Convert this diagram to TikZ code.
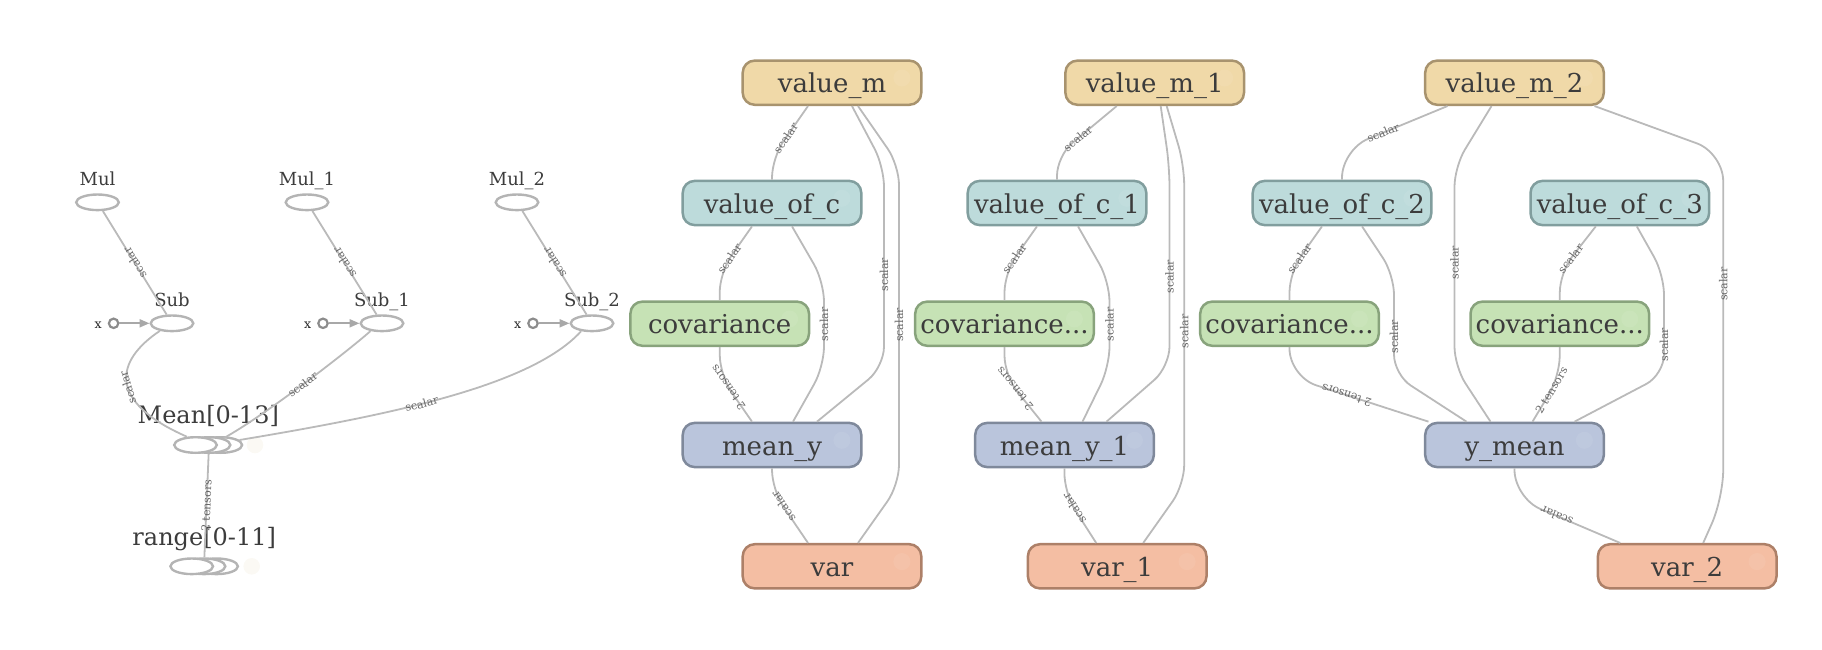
\documentclass[tikz,border=0pt]{standalone}
\usepackage{fontspec}
\setmainfont{DejaVu Serif}
\usetikzlibrary{shapes.geometric, arrows.meta, calc}

\definecolor{vmfill}{HTML}{F0D9A8}
\definecolor{vmdraw}{HTML}{A8936E}
\definecolor{vcfill}{HTML}{BDDBDB}
\definecolor{vcdraw}{HTML}{819E9E}
\definecolor{cvfill}{HTML}{C6E2B5}
\definecolor{cvdraw}{HTML}{88A37C}
\definecolor{myfill}{HTML}{BAC5DC}
\definecolor{mydraw}{HTML}{7F899B}
\definecolor{vrfill}{HTML}{F4BEA3}
\definecolor{vrdraw}{HTML}{AD8068}
\definecolor{edgegray}{HTML}{BABABA}
\definecolor{lblgray}{HTML}{666666}
\definecolor{opgray}{HTML}{B4B4B4}
\definecolor{portgray}{HTML}{8C8C8C}
\definecolor{arrowgray}{HTML}{A8A8A8}
\definecolor{txt}{HTML}{3C3C3C}
\definecolor{faintc}{HTML}{FBF9F4}

\begin{document}
\begin{tikzpicture}[x=0.5pt, y=-0.5pt,
    opbox/.style={rectangle, rounded corners=6pt, line width=1.25pt,
      minimum width=89.3pt, minimum height=22.1pt, inner sep=0pt,
      text height=12pt, text depth=2pt, text=txt,
      font=\fontsize{13}{15}\selectfont,
      path picture={\fill[white, opacity=0.07]
        ([xshift=-9.7pt, yshift=2.35pt]path picture bounding box.east) circle (4.25pt);}},
    mbox/.style={opbox, fill=vmfill, draw=vmdraw},
    cbox/.style={opbox, fill=vcfill, draw=vcdraw},
    covbox/.style={opbox, fill=cvfill, draw=cvdraw},
    meanbox/.style={opbox, fill=myfill, draw=mydraw},
    varbox/.style={opbox, fill=vrfill, draw=vrdraw},
    op/.style={ellipse, draw=opgray, fill=white, line width=1.2pt,
      minimum width=21.3pt, minimum height=7.8pt, inner sep=0pt},
    oplabel/.style={anchor=base, text=txt, inner sep=0pt, font=\fontsize{9}{9}\selectfont},
    grouplabel/.style={oplabel, font=\fontsize{12}{12}\selectfont},
    inport/.style={circle, draw=portgray, fill=white, line width=1.1pt,
      minimum size=4.7pt, inner sep=0pt},
    faint/.style={circle, fill=faintc, minimum size=8.3pt, inner sep=0pt},
    link/.style={draw=edgegray, line width=0.9pt, rounded corners=10pt},
    inlink/.style={draw=arrowgray, line width=1pt, -{Triangle[length=5pt, width=4pt]}},
    lbl/.style={sloped, allow upside down, inner sep=0.5pt, text=lblgray,
      font=\fontsize{5.5}{5.5}\selectfont},
  ]
    \useasboundingbox (0,0) rectangle (1822,649);

    % left part: ops
    \node[op] (mul) at (97.5,202.3) {};
    \node[op] (mul1) at (307,202.3) {};
    \node[op] (mul2) at (517,202.3) {};
    \node[oplabel] (mull) at (97.5,185) {Mul};
    \node[oplabel] (mul1l) at (307,185) {Mul\_1};
    \node[oplabel] (mul2l) at (517,185) {Mul\_2};
    \node[op] (sub) at (172,323.3) {};
    \node[op] (sub1) at (382,323.3) {};
    \node[op] (sub2) at (592,323.3) {};
    \node[oplabel] (subl) at (172,306.7) {Sub};
    \node[oplabel] (sub1l) at (382,306.7) {Sub\_1};
    \node[oplabel] (sub2l) at (592,306.7) {Sub\_2};
    \node[inport] (x0) at (113.6,323.3) {};
    \node[inport] (x1) at (323,323.3) {};
    \node[inport] (x2) at (533,323.3) {};
    \node[oplabel, font=\fontsize{6.3}{6.3}\selectfont, text=black!85] (x0l) at (98.2,328.3) {x};
    \node[oplabel, font=\fontsize{6.3}{6.3}\selectfont, text=black!85] (x1l) at (307.6,328.3) {x};
    \node[oplabel, font=\fontsize{6.3}{6.3}\selectfont, text=black!85] (x2l) at (517.6,328.3) {x};

    % stacked groups
    \node[faint] (meanf) at (255,445) {};
    \node[op] (mean2) at (220.8,445) {};
    \node[op] (mean1) at (209,445) {};
    \node[op] (mean0) at (195.5,445) {};
    \node[grouplabel] (meanl) at (208.3,423.3) {Mean[0-13]};
    \node[faint] (rangef) at (251.7,566.3) {};
    \node[op] (range2) at (216.6,566.3) {};
    \node[op] (range1) at (204,566.3) {};
    \node[op] (range0) at (191.7,566.3) {};
    \node[grouplabel] (rangel) at (204.2,545.7) {range[0-11]};

    % right part: boxes
    \node[mbox] (valm) at (832,82.7) {value\_m};
    \node[mbox] (valm1) at (1154.7,82.7) {value\_m\_1};
    \node[mbox] (valm2) at (1514.5,82.7) {value\_m\_2};
    \node[cbox] (valc) at (772,203) {value\_of\_c};
    \node[cbox] (valc1) at (1057,203) {value\_of\_c\_1};
    \node[cbox] (valc2) at (1342,203) {value\_of\_c\_2};
    \node[cbox] (valc3) at (1619.8,203) {value\_of\_c\_3};
    \node[covbox] (cova) at (719.7,323.7) {covariance};
    \node[covbox] (cova1) at (1004.5,323.7) {covariance...};
    \node[covbox] (cova2) at (1289.5,323.7) {covariance...};
    \node[covbox] (cova3) at (1559.8,323.7) {covariance...};
    \node[meanbox] (meany) at (772,445) {mean\_y};
    \node[meanbox] (meany1) at (1064.5,445) {mean\_y\_1};
    \node[meanbox] (ymean) at (1514.5,445) {y\_mean};
    \node[varbox] (var0) at (832,566.3) {var};
    \node[varbox] (var1) at (1117.2,566.3) {var\_1};
    \node[varbox] (var2) at (1687.2,566.3) {var\_2};

    % left edges
    \draw[link] (sub) -- node[lbl] {scalar} (mul);
    \draw[link] (sub1) -- node[lbl] {scalar} (mul1);
    \draw[link] (sub2) -- node[lbl] {scalar} (mul2);
    \draw[inlink] (x0) -- (sub);
    \draw[inlink] (x1) -- (sub1);
    \draw[inlink] (x2) -- (sub2);
    \draw[link] (mean0.136) .. controls +(-80,-35) and +(-45,30) .. node[lbl, pos=.45] {scalar} (sub.212);
    \draw[link] (mean1.25) .. controls +(40,-22) and +(-25,22) .. node[lbl] {scalar} (sub1.214);
    \draw[link] (mean2.15) .. controls +(150,-25) and +(-50,55) .. node[lbl, pos=.43] {scalar} (sub2.216);
    \draw[link] (range1) -- node[lbl] {2 tensors} (mean1);

    % value_m column
    \draw[link] (valc.north) -- ++(0,-22) -- node[lbl, pos=.38] {scalar} ($(valm.south)+(-24,0)$);
    \draw[link] (cova.north) -- ++(0,-28) -- node[lbl, pos=.3] {scalar} ($(valc.south)+(-20,0)$);
    \draw[link] ($(meany.north)+(-20,0)$) -- node[lbl, pos=.75] {2 tensors} ++(-32,-46) -- (cova.south);
    \draw[link] ($(meany.north)+(21,0)$) -- ++(31,-55) -- node[lbl] {scalar} ++(0,-85) -- ($(valc.south)+(20,0)$);
    \draw[link] ($(meany.north)+(45,0)$) -- ++(67,-55) -- node[lbl, pos=.46] {scalar} ++(0,-200) -- ($(valm.south)+(20,0)$);
    \draw[link] ($(var0.north)+(26,0)$) -- ++(41,-58) -- node[lbl] {scalar} ++(0,-320) -- ($(valm.south)+(26,0)$);
    \draw[link] ($(var0.north)+(-24,0)$) -- node[lbl, pos=.69] {scalar} ++(-36,-53) -- (meany.south);

    % value_m_1 column
    \draw[link] (valc1.north) -- ++(0,-24) -- node[lbl, pos=.35] {scalar} ($(valm1.south)+(-38,0)$);
    \draw[link] (cova1.north) -- ++(0,-28) -- node[lbl, pos=.3] {scalar} ($(valc1.south)+(-20,0)$);
    \draw[link] ($(meany1.north)+(-23,0)$) -- node[lbl, pos=.72] {2 tensors} ++(-37,-46) -- (cova1.south);
    \draw[link] ($(meany1.north)+(18,0)$) -- ++(27,-55) -- node[lbl] {scalar} ++(0,-85) -- ($(valc1.south)+(21,0)$);
    \draw[link] ($(meany1.north)+(42,0)$) -- ++(63,-55) -- node[lbl, pos=.45] {scalar} ++(0,-200) -- ($(valm1.south)+(6,0)$);
    \draw[link] ($(var1.north)+(26,0)$) -- ++(41,-58) -- node[lbl, pos=.48] {scalar} ++(0,-320) -- ($(valm1.south)+(12,0)$);
    \draw[link] ($(var1.north)+(-21,0)$) -- node[lbl, pos=.69] {scalar} ++(-32,-50) -- (meany1.south);

    % value_m_2 column
    \draw[link, rounded corners=14pt] (valc2.north) -- ++(0,-30) -- node[lbl, pos=.39] {scalar} ($(valm2.south)+(-67,0)$);
    \draw[link] (cova2.north) -- ++(0,-28) -- node[lbl, pos=.3] {scalar} ($(valc2.south)+(-20,0)$);
    \draw[link, rounded corners=14pt] ($(ymean.north)+(-86,0)$) -- node[lbl, pos=.59] {2 tensors} ++(-139,-45) -- (cova2.south);
    \draw[link] ($(ymean.north)+(-48,0)$) -- ++(-72.5,-47) -- node[lbl, pos=.38] {scalar} ++(0,-100) -- ($(valc2.south)+(20,0)$);
    \draw[link] ($(ymean.north)+(-24,0)$) -- ++(-36,-55) -- node[lbl, pos=.52] {scalar} ++(0,-200) -- ($(valm2.south)+(-23,0)$);
    \draw[link] (cova3.north) -- ++(0,-28) -- node[lbl, pos=.3] {scalar} ($(valc3.south)+(-24,0)$);
    \draw[link] ($(ymean.north)+(18,0)$) -- node[lbl, pos=.7] {2 tensors} ++(27,-45) -- (cova3.south);
    \draw[link] ($(ymean.north)+(60,0)$) -- ++(89.5,-47) -- node[lbl, pos=.3] {scalar} ++(0,-100) -- ($(valc3.south)+(17,0)$);
    \draw[link, rounded corners=14pt] ($(var2.north)+(-67,0)$) -- node[lbl, pos=.6] {scalar} ++(-105.7,-45) -- (ymean.south);
    \draw[link, rounded corners=14pt] ($(var2.north)+(16,0)$) -- ++(20,-45) -- node[lbl, pos=.62] {scalar} ++(0,-345) -- ($(valm2.south)+(80,0)$);
\end{tikzpicture}
\end{document}
